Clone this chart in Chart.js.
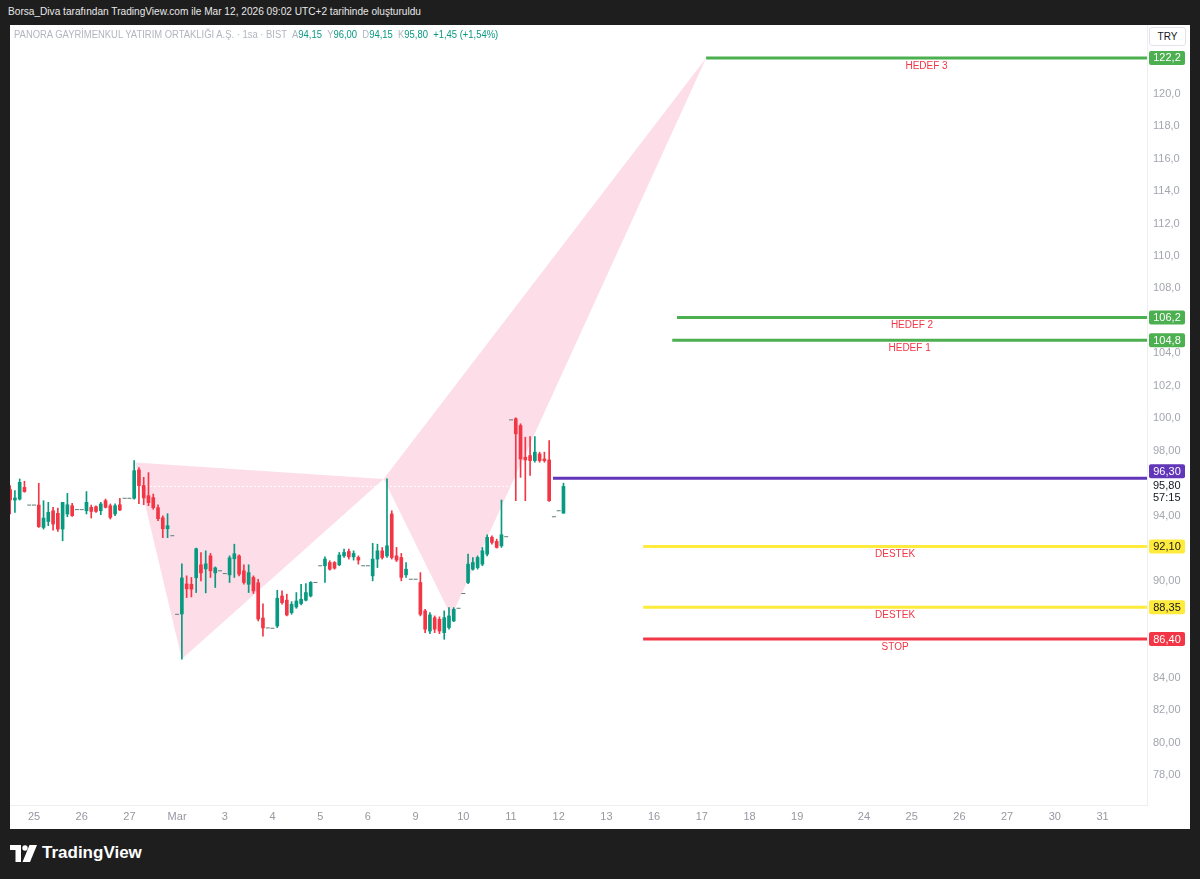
<!DOCTYPE html>
<html>
<head>
<meta charset="utf-8">
<script src="https://cdn.jsdelivr.net/npm/chart.js@4.4.1/dist/chart.umd.min.js"></script>
<style>
  html, body { margin: 0; padding: 0; background: #1e1e1e; width: 1200px; height: 879px; overflow: hidden;
    font-family: 'Liberation Sans', Arial, sans-serif; }
  #hdr { position: absolute; left: 8px; top: 5px; color: #e8e8e8; font-size: 11px; white-space: nowrap;
    transform: scaleX(0.92); transform-origin: left center; }
  #panel { position: absolute; left: 10px; top: 25px; width: 1180px; height: 804px; background: #fff; }
  #legend { position: absolute; left: 4px; top: 4px; font-size: 10px; color: #b2b5be; white-space: nowrap;
    transform: scaleX(0.943); transform-origin: left center; }
  #legend b { font-weight: normal; color: #089981; }
  #try { position: absolute; left: 1139px; top: 2px; width: 37px; height: 19px; box-sizing: border-box;
    border: 1px solid #e0e3eb; border-radius: 3px; font-size: 10px; color: #131722; text-align: center; line-height: 17px; background: #fff; }
  #logo { position: absolute; left: 10px; top: 843px; display: flex; align-items: center; gap: 5px;
    color: #fff; font-size: 17px; font-weight: bold; }
</style>
</head>
<body>
<div id="hdr">Borsa_Diva tarafından TradingView.com ile Mar 12, 2026 09:02 UTC+2 tarihinde oluşturuldu</div>
<div id="panel">
  <canvas id="chart"></canvas>
  <div id="legend">PANORA GAYRİMENKUL YATIRIM ORTAKLIĞI A.Ş. · 1sa · BIST &nbsp;A<b>94,15</b> &nbsp;Y<b>96,00</b> &nbsp;D<b>94,15</b> &nbsp;K<b>95,80</b> &nbsp;<b>+1,45 (+1,54%)</b></div>
  <div id="try">TRY</div>
</div>
<div id="logo">
  <svg width="27" height="17" viewBox="0 0 27 17"><path d="M0 0H11V17H5.5V5H0Z" fill="#fff"/><circle cx="15" cy="3" r="2.7" fill="#fff"/><path d="M19.5 0H27L20 17H12.5Z" fill="#fff"/></svg>
  <span>TradingView</span>
</div>
<script>
// bar time in trading days (0 = 25 Feb, one hourly bar = 0.1)
const barX = [
  -0.5, -0.4, -0.3, -0.2, -0.1,
  0.0, 0.1, 0.2, 0.3, 0.4, 0.5, 0.6, 0.7, 0.8, 0.9,
  1.0, 1.1, 1.2, 1.3, 1.4, 1.5, 1.6, 1.7, 1.8, 1.9,
  2.0, 2.1, 2.2, 2.3, 2.4, 2.5, 2.6, 2.7, 2.8, 2.9,
  3.0, 3.1, 3.2, 3.3, 3.4, 3.5, 3.6, 3.7, 3.8, 3.9,
  4.0, 4.1, 4.2, 4.3, 4.4, 4.5, 4.6, 4.7, 4.8, 4.9,
  5.0, 5.1, 5.2, 5.3, 5.4, 5.5, 5.6, 5.7, 5.8, 5.9,
  6.0, 6.1, 6.2, 6.3, 6.4, 6.5, 6.6, 6.7, 6.8, 6.9,
  7.0, 7.1, 7.2, 7.3, 7.4, 7.5, 7.6, 7.7, 7.8, 7.9,
  8.0, 8.1, 8.2, 8.3, 8.4, 8.5, 8.6, 8.7, 8.8, 8.9,
  9.0, 9.1, 9.2, 9.3, 9.4, 9.5, 9.6, 9.7, 9.8, 9.9,
  10.0, 10.1, 10.2, 10.3, 10.4, 10.5, 10.6, 10.7, 10.8, 10.9,
  11.0, 11.1
];
const opens = [
  95.60, 94.96, 95.02, 95.74, 94.65,
  94.65, 94.65, 93.27, 93.64, 94.30, 94.14, 93.17, 94.10, 94.61, 94.37,
  94.37, 94.30, 94.51, 94.55, 94.30, 94.92, 94.61, 94.10, 94.67, 95.07,
  95.07, 95.07, 96.82, 95.85, 95.23, 95.11, 94.49, 93.87, 93.19, 92.76,
  87.92, 87.94, 89.79, 89.77, 90.17, 90.97, 90.72, 91.52, 90.47, 90.60,
  90.43, 90.35, 91.34, 91.52, 90.60, 89.77, 90.19, 89.86, 87.69, 87.08,
  87.06, 87.20, 89.05, 88.79, 88.02, 88.37, 88.58, 88.79, 89.05, 89.88,
  90.91, 90.91, 91.11, 91.11, 90.97, 91.52, 91.79, 91.46, 91.42, 90.91,
  90.91, 90.29, 91.32, 91.83, 91.52, 94.10, 91.52, 91.42, 90.35, 90.08,
  90.08, 89.88, 88.13, 86.89, 87.71, 87.61, 86.79, 87.10, 87.51, 88.29,
  89.20, 89.88, 90.70, 90.80, 91.01, 91.63, 92.66, 92.41, 92.14, 92.70,
  99.90, 99.97, 99.55, 97.60, 97.70, 97.39, 97.80, 97.49, 97.43, 93.93,
  94.30, 94.15
];
const highs = [
  95.85, 95.54, 96.26, 96.12, 94.65,
  94.65, 95.99, 94.92, 94.82, 94.51, 94.47, 94.55, 95.37, 94.76, 94.37,
  94.37, 95.48, 94.65, 94.61, 94.82, 95.02, 94.72, 94.72, 95.07, 95.07,
  95.07, 97.39, 96.96, 96.36, 96.65, 95.33, 94.67, 93.99, 94.12, 92.76,
  87.92, 91.03, 90.29, 90.19, 92.00, 91.73, 91.83, 91.67, 90.84, 90.60,
  90.43, 91.52, 92.24, 91.59, 90.97, 90.97, 90.29, 90.08, 88.56, 87.08,
  87.06, 89.40, 89.36, 89.16, 88.70, 89.26, 89.77, 89.81, 89.94, 89.88,
  90.91, 91.46, 91.22, 91.17, 91.73, 91.94, 91.94, 91.83, 91.52, 90.91,
  90.91, 92.29, 92.24, 92.04, 96.26, 94.30, 92.04, 91.67, 91.11, 90.08,
  90.08, 90.49, 88.23, 88.02, 87.82, 87.76, 88.13, 88.33, 88.33, 88.29,
  89.20, 91.63, 91.42, 91.52, 92.04, 92.82, 92.76, 92.55, 94.96, 92.70,
  99.90, 100.03, 99.66, 98.83, 98.87, 98.87, 97.91, 97.91, 98.63, 93.93,
  94.30, 96.00
];
const lows = [
  94.10, 94.20, 94.96, 95.44, 94.65,
  94.65, 93.27, 93.17, 93.38, 93.11, 93.03, 92.45, 93.93, 93.95, 94.37,
  94.37, 94.10, 93.85, 94.20, 94.06, 94.47, 93.79, 93.99, 94.30, 95.07,
  95.07, 95.02, 94.74, 94.67, 94.61, 94.39, 93.69, 92.64, 92.64, 92.76,
  87.92, 85.16, 88.95, 88.99, 89.26, 89.98, 89.24, 90.19, 89.57, 90.60,
  90.43, 89.88, 90.19, 90.29, 89.77, 89.26, 89.20, 87.51, 86.58, 87.08,
  87.06, 87.10, 88.54, 87.82, 87.92, 88.29, 88.50, 88.74, 88.99, 89.88,
  90.91, 89.88, 90.64, 90.70, 90.91, 91.42, 91.32, 91.26, 91.01, 90.91,
  90.91, 89.98, 90.80, 91.32, 91.42, 91.32, 91.17, 89.98, 90.19, 90.08,
  90.08, 87.82, 86.79, 86.73, 86.79, 86.73, 86.38, 87.00, 87.47, 88.29,
  89.20, 89.81, 90.64, 90.70, 90.91, 91.52, 92.24, 92.00, 92.04, 92.70,
  99.90, 94.92, 96.36, 94.92, 96.47, 97.29, 97.29, 97.29, 94.88, 93.93,
  94.30, 94.15
];
const closes = [
  94.96, 95.09, 96.05, 95.48, 94.65,
  94.65, 93.32, 93.85, 94.20, 93.48, 93.17, 94.82, 94.67, 94.00, 94.37,
  94.37, 94.82, 94.26, 94.26, 94.72, 94.51, 93.89, 94.61, 94.35, 95.07,
  95.07, 96.77, 95.85, 95.09, 94.80, 94.49, 93.81, 93.19, 93.38, 92.76,
  87.92, 90.16, 89.49, 89.47, 91.96, 90.47, 91.03, 90.60, 90.78, 90.60,
  90.43, 91.40, 91.65, 90.39, 89.88, 90.49, 89.36, 87.63, 87.08, 87.08,
  87.06, 88.91, 88.64, 87.88, 88.54, 88.74, 88.85, 89.26, 89.88, 89.88,
  90.91, 91.32, 90.70, 90.76, 91.57, 91.73, 91.46, 91.67, 91.26, 90.91,
  90.91, 91.32, 91.83, 91.42, 92.14, 91.42, 91.26, 90.19, 90.70, 90.08,
  90.08, 87.92, 87.00, 87.88, 87.00, 86.89, 87.71, 87.82, 88.23, 88.29,
  89.20, 91.01, 91.11, 91.42, 91.83, 92.66, 92.35, 92.04, 92.82, 92.70,
  99.90, 99.04, 97.49, 97.43, 97.39, 97.91, 97.39, 97.39, 94.92, 93.93,
  94.30, 95.80
];

const xTickPos = [0, 1, 2, 3, 4, 5, 6, 7, 8, 9, 10, 11, 12, 13, 14, 15, 16, 17.4, 18.4, 19.4, 20.4, 21.4, 22.4];
const xTickLabels = ['25', '26', '27', 'Mar', '3', '4', '5', '6', '9', '10', '11', '12', '13', '16', '17', '18', '19', '24', '25', '26', '27', '30', '31'];
const yTicks = [78, 80, 82, 84, 86, 88, 90, 92, 94, 96, 98, 100, 102, 104, 106, 108, 110, 112, 114, 116, 118, 120, 122];

// horizontal levels drawn on the chart
const levelValues = [122.2, 106.2, 104.8, 96.30, 92.10, 88.35, 86.40];
const levelLabels = ['122,2', '106,2', '104,8', '96,30', '92,10', '88,35', '86,40'];
const levelNames  = ['HEDEF 3', 'HEDEF 2', 'HEDEF 1', '', 'DESTEK', 'DESTEK', 'STOP'];
const levelStart  = [14.09, 13.48, 13.38, 10.88, 12.77, 12.77, 12.77];

// XABCD pattern points
const patternX = [2.12, 3.10, 7.33, 8.75, 14.09];
const patternY = [97.27, 85.16, 96.26, 87.80, 122.2];

const lastPrice = 95.80;
const countdown = '57:15';

const UP = '#089981', DOWN = '#f23645', FLAT = '#5e7d76';
const levelColors = ['#4caf50', '#4caf50', '#4caf50', '#6236b8', '#ffeb3b', '#ffeb3b', '#f23645'];
const levelText   = ['#fff', '#fff', '#fff', '#fff', '#131722', '#131722', '#fff'];
const boxShift    = [0, 0, 0, -7, 0, 0, 0];   // axis label nudged up to clear the last-price label
const X_MIN = -0.503, X_MAX = 23.333;
const FONT = "'Liberation Sans', Arial, sans-serif";

const fmt = v => (v >= 100 ? v.toFixed(1) : v.toFixed(2)).replace('.', ',');
const marked = [...levelValues, lastPrice];

const idx = barX.map((_, i) => i);
const candleIdx = idx.filter(i => highs[i] !== lows[i]);
const flatIdx = idx.filter(i => highs[i] === lows[i]);
const colorOf = i => closes[i] >= opens[i] ? UP : DOWN;

const overlay = {
  id: 'overlay',
  beforeDatasetsDraw(chart) {
    const { ctx, chartArea: a, scales: { x, y } } = chart;
    ctx.save();
    ctx.beginPath(); ctx.rect(a.left, a.top, a.width, a.height); ctx.clip();
    ctx.fillStyle = 'rgba(233, 30, 99, 0.15)';
    [[0, 1, 2], [2, 3, 4]].forEach(tri => {
      ctx.beginPath();
      tri.forEach((p, j) => {
        const px = x.getPixelForValue(patternX[p]), py = y.getPixelForValue(patternY[p]);
        j ? ctx.lineTo(px, py) : ctx.moveTo(px, py);
      });
      ctx.closePath(); ctx.fill();
    });
    ctx.restore();
  },
  afterDraw(chart) {
    const { ctx, chartArea: a, scales: { x, y } } = chart;
    ctx.save();
    ctx.textBaseline = 'middle';
    levelValues.forEach((v, i) => {
      const py = y.getPixelForValue(v);
      if (levelNames[i]) {
        ctx.font = '10px ' + FONT; ctx.textAlign = 'center'; ctx.fillStyle = '#f23645';
        ctx.fillText(levelNames[i], (x.getPixelForValue(levelStart[i]) + a.right) / 2, py + 8);
      }
      const by = py + boxShift[i];
      ctx.fillStyle = levelColors[i];
      ctx.beginPath(); ctx.roundRect(a.right + 2, by - 7, 36, 14, 2); ctx.fill();
      ctx.font = '11px ' + FONT; ctx.textAlign = 'center'; ctx.fillStyle = levelText[i];
      ctx.fillText(levelLabels[i], a.right + 20, by + 0.5);
    });
    const py = y.getPixelForValue(lastPrice);
    ctx.font = '11px ' + FONT; ctx.textAlign = 'left'; ctx.fillStyle = '#131722';
    ctx.fillText(fmt(lastPrice), a.right + 6, py);
    ctx.fillText(countdown, a.right + 6, py + 12);
    ctx.restore();
  }
};

const datasets = [
  { type: 'line', data: [{ x: X_MIN, y: lastPrice }, { x: X_MAX, y: lastPrice }], borderColor: '#ffffff',
    borderWidth: 1, borderDash: [2, 2], pointRadius: 0, order: 9 },
  ...levelValues.map((v, i) => ({
    type: 'line', data: [{ x: levelStart[i], y: v }, { x: X_MAX, y: v }], borderColor: levelColors[i],
    borderWidth: 3, pointRadius: 0, order: 8 })),
  { type: 'bar', data: candleIdx.map(i => ({ x: barX[i], y: [lows[i], highs[i]] })),
    backgroundColor: candleIdx.map(colorOf), barThickness: 1, grouped: false, order: 3 },
  { type: 'bar', data: candleIdx.map(i => ({ x: barX[i], y: [opens[i], closes[i]] })),
    backgroundColor: candleIdx.map(colorOf), barThickness: 3, minBarLength: 1, grouped: false, order: 2 },
  { type: 'scatter', data: flatIdx.map(i => ({ x: barX[i], y: closes[i] })), pointStyle: 'line',
    pointRadius: 2, borderColor: FLAT, borderWidth: 1, order: 1 },
];

Chart.defaults.font.family = FONT;
new Chart(document.getElementById('chart'), {
  type: 'bar',
  data: { datasets },
  plugins: [overlay],
  options: {
    animation: false, responsive: true, maintainAspectRatio: false,
    layout: { padding: 0, autoPadding: false },
    plugins: { legend: { display: false }, tooltip: { enabled: false } },
    scales: {
      x: {
        type: 'linear', min: X_MIN, max: X_MAX, offset: false,
        grid: { display: false, drawTicks: false }, border: { color: '#eceef2' },
        afterBuildTicks: s => { s.ticks = xTickPos.map(v => ({ value: v })); },
        afterFit: s => { s.height = 24; s.paddingLeft = 0; s.paddingRight = 0; },
        ticks: { autoSkip: false, maxRotation: 0, color: '#9598a1', font: { size: 11 }, padding: 5,
          callback: (v, i) => xTickLabels[i] },
      },
      y: {
        type: 'linear', position: 'right', min: 76.17, max: 124.23,
        grid: { display: false, drawTicks: false }, border: { color: '#eceef2' },
        afterBuildTicks: s => { s.ticks = yTicks.map(v => ({ value: v })); },
        afterFit: s => { s.width = 43; s.paddingTop = 0; s.paddingBottom = 0; },
        ticks: { color: '#a3a6af', font: { size: 11 }, padding: 6,
          callback: v => marked.some(m => Math.abs(m - v) < 0.5) ? '' : fmt(v) },
      },
    },
  },
});
</script>
</body>
</html>
